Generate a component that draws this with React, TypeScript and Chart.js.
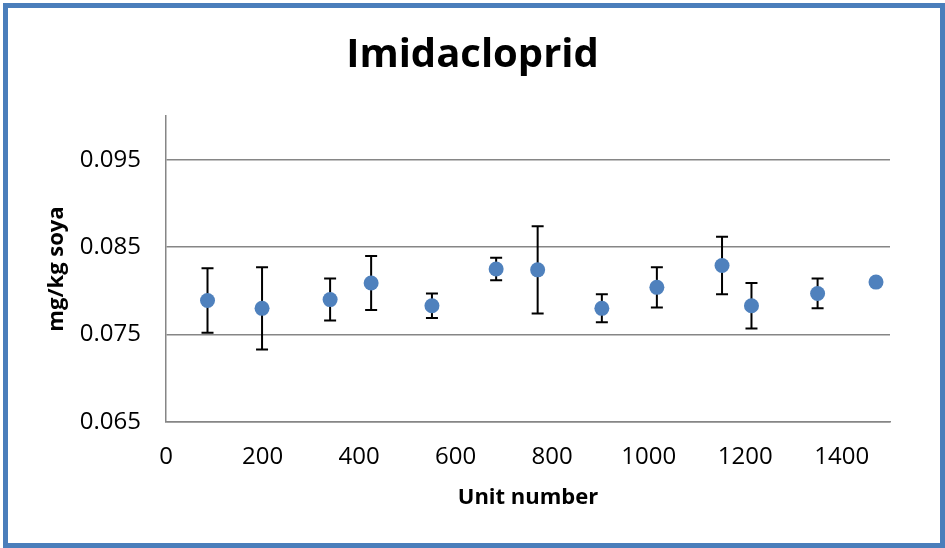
import React, { useEffect, useRef } from "react";
import { Chart, registerables } from "chart.js";

Chart.register(...registerables);

// Sampling positions (unit number) and measured residue (mg/kg soya)
const unitNumbers = [86, 199, 340, 425, 551, 684, 770, 903, 1017, 1152, 1213, 1350, 1471];
const meanValues = [0.0789, 0.078, 0.079, 0.0809, 0.0783, 0.0825, 0.0824, 0.078, 0.0804, 0.0829, 0.0783, 0.0797, 0.081];
const errorValues = [0.0037, 0.0047, 0.0024, 0.0031, 0.0014, 0.0013, 0.005, 0.0016, 0.0023, 0.0033, 0.0026, 0.0017, 0];

const xTicks = [0, 200, 400, 600, 800, 1000, 1200, 1400];
const yTicks = [0.065, 0.075, 0.085, 0.095];

const FONT = "'Open Sans', 'DejaVu Sans', sans-serif";
const GRID = "#868686";

// Vertical error bars with caps, drawn under the markers
const errorBarPlugin = {
  id: "errorBars",
  beforeDatasetsDraw(chart: any) {
    const { ctx, scales } = chart;
    const xs = scales.x;
    const ys = scales.y;
    ctx.save();
    ctx.strokeStyle = "#000000";
    ctx.lineWidth = 2;
    const cap = 6;
    unitNumbers.forEach((u, i) => {
      const e = errorValues[i];
      if (!e) return;
      const px = xs.getPixelForValue(u);
      const top = ys.getPixelForValue(meanValues[i] + e);
      const bot = ys.getPixelForValue(meanValues[i] - e);
      ctx.beginPath();
      ctx.moveTo(px, top);
      ctx.lineTo(px, bot);
      ctx.moveTo(px - cap, top);
      ctx.lineTo(px + cap, top);
      ctx.moveTo(px - cap, bot);
      ctx.lineTo(px + cap, bot);
      ctx.stroke();
    });
    ctx.restore();
  },
};

export default function App() {
  const canvasRef = useRef<HTMLCanvasElement | null>(null);

  useEffect(() => {
    const canvas = canvasRef.current;
    if (!canvas) return;
    const chart = new Chart(canvas, {
      type: "scatter",
      data: {
        datasets: [
          {
            label: "Imidacloprid",
            data: unitNumbers.map((u, i) => ({ x: u, y: meanValues[i] })),
            backgroundColor: "#4f81bd",
            borderColor: "#4f81bd",
            borderWidth: 0,
            pointRadius: 7.5,
            pointHoverRadius: 7.5,
          },
        ],
      },
      options: {
        animation: false,
        responsive: false,
        maintainAspectRatio: false,
        layout: { padding: 0 },
        plugins: {
          legend: { display: false },
          tooltip: { enabled: false },
          title: {
            display: true,
            text: "Imidacloprid",
            color: "#000000",
            font: { family: FONT, size: 40, weight: "bold" },
            padding: { top: 32, bottom: 36 },
          },
        },
        scales: {
          x: {
            type: "linear",
            min: 0,
            max: 1500,
            afterBuildTicks: (s: any) => {
              s.ticks = xTicks.map((v) => ({ value: v }));
            },
            afterFit: (s: any) => {
              s.height = 126;
            },
            grid: { display: false, drawTicks: false },
            border: { display: true, color: GRID, width: 1.5 },
            ticks: {
              color: "#000000",
              padding: 21,
              font: { family: FONT, size: 24 },
              maxRotation: 0,
              callback: (v: any) => String(v),
            },
            title: {
              display: true,
              text: "Unit number",
              color: "#000000",
              font: { family: FONT, size: 22, weight: "bold" },
              padding: { top: 0, bottom: 37 },
            },
          },
          y: {
            type: "linear",
            min: 0.065,
            max: 0.1,
            afterBuildTicks: (s: any) => {
              s.ticks = yTicks.map((v) => ({ value: v }));
            },
            afterFit: (s: any) => {
              s.width = 166;
            },
            grid: { display: true, color: GRID, lineWidth: 1.5, drawTicks: false },
            border: { display: true, color: GRID, width: 1.5 },
            ticks: {
              color: "#000000",
              padding: 25,
              font: { family: FONT, size: 24 },
              callback: (v: any) => Number(v).toFixed(3),
            },
            title: {
              display: true,
              text: "mg/kg soya",
              color: "#000000",
              font: { family: FONT, size: 22, weight: "bold" },
              padding: { top: 44, bottom: 0 },
            },
          },
          // Empty right-hand margin so the plot stops short of the frame
          yRight: {
            type: "linear",
            position: "right",
            min: 0,
            max: 1,
            afterFit: (s: any) => {
              s.width = 55;
            },
            grid: { display: false, drawTicks: false },
            border: { display: false },
            ticks: { display: false },
          },
        },
      },
      plugins: [errorBarPlugin],
    });
    return () => chart.destroy();
  }, []);

  return (
    <div
      style={{
        position: "fixed",
        left: 0,
        top: 0,
        width: 945,
        height: 548,
        background: "#ffffff",
        overflow: "hidden",
      }}
    >
      <canvas ref={canvasRef} width={945} height={548} style={{ position: "absolute", left: 0, top: 0 }} />
      <div
        style={{
          position: "absolute",
          left: 3,
          top: 3,
          width: 942,
          height: 545,
          boxSizing: "border-box",
          border: "5px solid #4a7ebb",
          pointerEvents: "none",
        }}
      />
    </div>
  );
}
